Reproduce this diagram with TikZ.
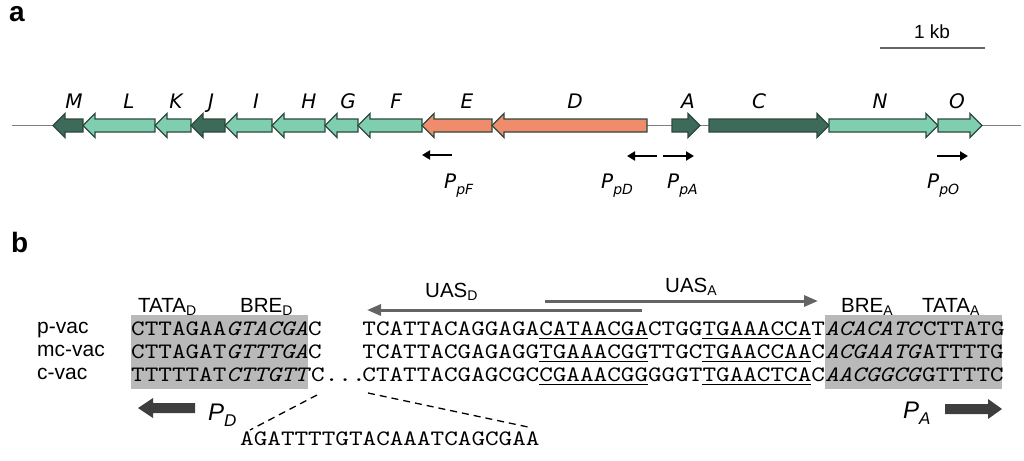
\documentclass[tikz,border=0pt]{standalone}
\usepackage{fontspec}
\setmainfont{Liberation Sans}
\newfontfamily\genefont{DejaVu Sans}
\newfontfamily\seqfont[ItalicFont=lmmono10-italic.otf, FakeStretch=1.178]{lmmono10-regular.otf}
\usetikzlibrary{arrows.meta}
\definecolor{dkg}{RGB}{62,106,90}
\definecolor{ltg}{RGB}{128,206,176}
\definecolor{sal}{RGB}{240,140,108}
\definecolor{edgec}{RGB}{45,72,62}
\definecolor{greybox}{RGB}{185,185,185}
\definecolor{uasc}{RGB}{100,100,100}
\definecolor{pdark}{RGB}{62,62,62}
\newcommand\genel[3]{\draw[genebox,fill=#3] (#2,119) -- ({#1+12},119) -- ({#1+12},113.5) -- (#1,125.5) -- ({#1+12},137.5) -- ({#1+12},132) -- (#2,132) -- cycle;}
\newcommand\gener[3]{\draw[genebox,fill=#3] (#1,119) -- ({#2-12},119) -- ({#2-12},113.5) -- (#2,125.5) -- ({#2-12},137.5) -- ({#2-12},132) -- (#1,132) -- cycle;}
\newcommand\prom[2]{{\genefont\itshape\fontsize{20}{20}\selectfont P\raisebox{-6pt}{\fontsize{14}{14}\selectfont #2}}}
\newcommand\sub[2]{#1\raisebox{-3pt}{\fontsize{14}{14}\selectfont #2}}
\tikzset{
  genebox/.style={draw=edgec, line width=1.1pt, line join=miter},
  genelab/.style={anchor=base, inner sep=0, font=\genefont\itshape\fontsize{20}{20}\selectfont},
  parr/.style={line width=2.4pt, -{Triangle[length=8pt,width=9pt]}},
  plab/.style={anchor=base west, inner sep=0},
  seq/.style={anchor=base west, inner sep=0, font=\seqfont\fontsize{22}{22}\selectfont},
  rowlab/.style={anchor=base west, inner sep=0, font=\fontsize{21}{21}\selectfont},
  boxlab/.style={anchor=base west, inner sep=0, font=\fontsize{20.5}{20.5}\selectfont},
  uasarr/.style={draw=uasc, line width=3pt, -{Triangle[length=14pt,width=11pt]}},
  ul/.style={line width=1.3pt},
  bigp/.style={fill=pdark, draw=none},
  bigplab/.style={anchor=base west, inner sep=0, font=\itshape\fontsize{24}{24}\selectfont},
  panel/.style={anchor=north west, inner sep=0, font=\bfseries\fontsize{28}{28}\selectfont}
}
\begin{document}
\begin{tikzpicture}[x=1pt,y=-1pt]
\useasboundingbox (0,0) rectangle (1024,460);
% panel labels
\node[panel] (pa) at (9,6) {a};
\node[panel] (pb) at (11,232) {b};
% scale bar
\coordinate (sb1) at (880,48); \coordinate (sb2) at (985,48);
\draw[uasc, line width=2pt] (sb1) -- (sb2);
\node[anchor=base, inner sep=0, font=\fontsize{19}{19}\selectfont] (kb) at (932,39) {1 kb};
% gene line
\coordinate (gl1) at (12,125.5); \coordinate (gl2) at (1021,125.5);
\draw[gray, line width=1.3pt] (gl1) -- (gl2);
% genes
\genel{53}{83}{dkg}
\genel{83}{155}{ltg}
\genel{155}{191}{ltg}
\genel{191}{225}{dkg}
\genel{225}{272}{ltg}
\genel{272}{325}{ltg}
\genel{325}{358}{ltg}
\genel{358}{422}{ltg}
\genel{422}{492}{sal}
\genel{492}{647}{sal}
\gener{672}{700}{dkg}
\gener{709}{829}{dkg}
\gener{829}{938}{ltg}
\gener{938}{982}{ltg}
% gene labels
\node[genelab] (gM) at (74,108) {M};
\node[genelab] (gL) at (129,108) {L};
\node[genelab] (gK) at (176,108) {K};
\node[genelab] (gJ) at (211,108) {J};
\node[genelab] (gI) at (256,108) {I};
\node[genelab] (gH) at (309,108) {H};
\node[genelab] (gG) at (348,108) {G};
\node[genelab] (gF) at (396,108) {F};
\node[genelab] (gE) at (467,108) {E};
\node[genelab] (gD) at (575,108) {D};
\node[genelab] (gA) at (688,108) {A};
\node[genelab] (gC) at (759,108) {C};
\node[genelab] (gN) at (880,108) {N};
\node[genelab] (gO) at (957,108) {O};
% promoter arrows
\coordinate (pf1) at (452,155); \coordinate (pf2) at (422,155);
\coordinate (pd1) at (657,156); \coordinate (pd2) at (627,156);
\coordinate (pa1) at (663,156); \coordinate (pa2) at (694,156);
\coordinate (po1) at (937,156); \coordinate (po2) at (968,156);
\draw[parr] (pf1) -- (pf2);
\draw[parr] (pd1) -- (pd2);
\draw[parr] (pa1) -- (pa2);
\draw[parr] (po1) -- (po2);
\node[plab] (lpF) at (444,188) {\prom{P}{pF}};
\node[plab] (lpD) at (601,188) {\prom{P}{pD}};
\node[plab] (lpA) at (667,188) {\prom{P}{pA}};
\node[plab] (lpO) at (927,188) {\prom{P}{pO}};
% part b: shaded boxes
\fill[greybox] (131,315) rectangle (307.8,389);
\fill[greybox] (824.6,315) rectangle (1002,389);
% box labels
\node[boxlab] (tatad) at (138,312) {\sub{TATA}{D}};
\node[boxlab] (bred) at (240,312) {\sub{BRE}{D}};
\node[boxlab] (brea) at (841,312) {\sub{BRE}{A}};
\node[boxlab] (tataa) at (922,312) {\sub{TATA}{A}};
% UAS arrows
\coordinate (ud1) at (642,310); \coordinate (ud2) at (367,310);
\coordinate (ua1) at (545,301); \coordinate (ua2) at (818,301);
\draw[uasarr] (ud1) -- (ud2);
\draw[uasarr] (ua1) -- (ua2);
\node[boxlab] (uasd) at (425,297) {\sub{UAS}{D}};
\node[boxlab] (uasa) at (665,292) {\sub{UAS}{A}};
% row labels
\node[rowlab] (rl1) at (37,333) {p-vac};
\node[rowlab] (rl2) at (37,356) {mc-vac};
\node[rowlab] (rl3) at (37,379) {c-vac};
% sequences (char grid: x = 131 + 13.6 i)
\node[seq] (r1l) at (131,335) {CTTAGAA\textit{GTACGA}C};
\node[seq] (r1r) at (362.2,335) {TCATTACAGGAGACATAACGACTGGTGAAACCAT\textit{ACACATC}CTTATG};
\node[seq] (r2l) at (131,358) {CTTAGAT\textit{GTTTGA}C};
\node[seq] (r2r) at (362.2,358) {TCATTACGAGAGGTGAAACGGTTGCTGAACCAAC\textit{ACGAATG}ATTTTG};
\node[seq] (r3l) at (131,381) {TTTTTAT\textit{CTTGTT}C...};
\node[seq] (r3r) at (362.2,381) {CTATTACGAGCGCCGAAACGGGGGTTGAACTCAC\textit{AACGGCG}GTTTTC};
% underlines
\foreach \yy in {335,358,381}{
  \draw[ul] (539,\yy+3.5) -- (647.8,\yy+3.5);
  \draw[ul] (702.2,\yy+3.5) -- (811,\yy+3.5);
}
% insertion
\node[seq] (ins) at (240,445) {AGATTTTGTACAAATCAGCGAA};
\coordinate (d1) at (317,395); \coordinate (d2) at (250,430);
\coordinate (d3) at (368,393); \coordinate (d4) at (528,427);
\draw[line width=1.3pt, dash pattern=on 7pt off 5pt] (d1) -- (d2);
\draw[line width=1.3pt, dash pattern=on 7pt off 5pt] (d3) -- (d4);
% big promoter arrows
\draw[bigp] (195,403) -- (153,403) -- (153,398) -- (138,408) -- (153,418) -- (153,413) -- (195,413) -- cycle;
\draw[bigp] (945,404) -- (988,404) -- (988,399) -- (1002,409) -- (988,419) -- (988,414) -- (945,414) -- cycle;
\node[bigplab] (lPD) at (208,420) {P\raisebox{-6pt}{\fontsize{17}{17}\selectfont D}};
\node[bigplab] (lPA) at (903,418) {P\raisebox{-6pt}{\fontsize{17}{17}\selectfont A}};
\end{tikzpicture}
\end{document}
